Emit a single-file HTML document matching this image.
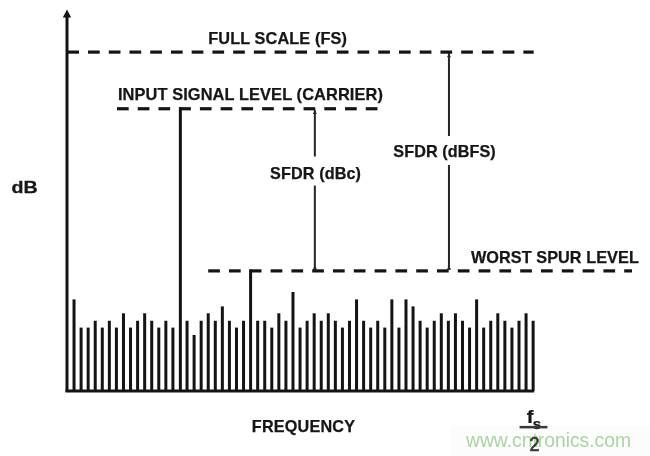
<!DOCTYPE html>
<html><head><meta charset="utf-8"><style>
html,body{margin:0;padding:0;background:#fff;}
body{width:650px;height:456px;overflow:hidden;position:relative;}
#wrap{position:absolute;left:0;top:0;width:650px;height:456px;will-change:transform;}
svg{position:absolute;left:0;top:0;}
text{font-family:"Liberation Sans",sans-serif;font-weight:bold;fill:#161616;stroke:#161616;stroke-width:0.25px;}
</style></head><body>
<div id="wrap"><svg width="650" height="456" viewBox="0 0 650 456">
<rect x="450" y="426" width="200" height="30" fill="#fcfcfc"/>
<g fill="#141414">
<rect x="65.5" y="16" width="3" height="376"/>
<polygon points="67,9.6 62.8,17.6 71.2,17.6"/>
<rect x="65.5" y="389.5" width="468.7" height="3"/>
<rect x="72.53" y="299.40" width="3.0" height="91.60"/>
<rect x="79.59" y="327.60" width="3.0" height="63.40"/>
<rect x="86.66" y="327.60" width="3.0" height="63.40"/>
<rect x="93.72" y="320.75" width="3.0" height="70.25"/>
<rect x="100.78" y="327.60" width="3.0" height="63.40"/>
<rect x="107.84" y="320.75" width="3.0" height="70.25"/>
<rect x="114.91" y="327.60" width="3.0" height="63.40"/>
<rect x="121.97" y="313.30" width="3.0" height="77.70"/>
<rect x="129.03" y="327.60" width="3.0" height="63.40"/>
<rect x="136.10" y="320.75" width="3.0" height="70.25"/>
<rect x="143.16" y="313.30" width="3.0" height="77.70"/>
<rect x="150.22" y="320.75" width="3.0" height="70.25"/>
<rect x="157.28" y="327.60" width="3.0" height="63.40"/>
<rect x="164.35" y="320.75" width="3.0" height="70.25"/>
<rect x="171.41" y="327.60" width="3.0" height="63.40"/>
<rect x="178.87" y="107.30" width="3.0" height="283.70"/>
<rect x="185.54" y="320.75" width="3.0" height="70.25"/>
<rect x="192.60" y="335.00" width="3.0" height="56.00"/>
<rect x="199.66" y="320.75" width="3.0" height="70.25"/>
<rect x="206.73" y="313.30" width="3.0" height="77.70"/>
<rect x="213.79" y="320.75" width="3.0" height="70.25"/>
<rect x="220.85" y="306.40" width="3.0" height="84.60"/>
<rect x="227.91" y="320.75" width="3.0" height="70.25"/>
<rect x="234.98" y="327.60" width="3.0" height="63.40"/>
<rect x="242.04" y="320.75" width="3.0" height="70.25"/>
<rect x="249.10" y="269.40" width="3.0" height="121.60"/>
<rect x="256.17" y="320.75" width="3.0" height="70.25"/>
<rect x="263.23" y="320.75" width="3.0" height="70.25"/>
<rect x="270.29" y="327.60" width="3.0" height="63.40"/>
<rect x="277.35" y="313.30" width="3.0" height="77.70"/>
<rect x="284.42" y="320.75" width="3.0" height="70.25"/>
<rect x="291.48" y="292.00" width="3.0" height="99.00"/>
<rect x="298.54" y="327.60" width="3.0" height="63.40"/>
<rect x="305.61" y="320.75" width="3.0" height="70.25"/>
<rect x="312.67" y="313.30" width="3.0" height="77.70"/>
<rect x="319.73" y="320.75" width="3.0" height="70.25"/>
<rect x="326.79" y="313.30" width="3.0" height="77.70"/>
<rect x="333.86" y="320.75" width="3.0" height="70.25"/>
<rect x="340.92" y="327.60" width="3.0" height="63.40"/>
<rect x="347.98" y="320.75" width="3.0" height="70.25"/>
<rect x="355.05" y="299.40" width="3.0" height="91.60"/>
<rect x="362.11" y="320.75" width="3.0" height="70.25"/>
<rect x="369.17" y="327.60" width="3.0" height="63.40"/>
<rect x="376.23" y="320.75" width="3.0" height="70.25"/>
<rect x="383.30" y="327.60" width="3.0" height="63.40"/>
<rect x="390.36" y="299.40" width="3.0" height="91.60"/>
<rect x="397.42" y="327.60" width="3.0" height="63.40"/>
<rect x="404.49" y="299.40" width="3.0" height="91.60"/>
<rect x="411.55" y="306.40" width="3.0" height="84.60"/>
<rect x="418.61" y="320.75" width="3.0" height="70.25"/>
<rect x="425.67" y="327.60" width="3.0" height="63.40"/>
<rect x="432.74" y="320.75" width="3.0" height="70.25"/>
<rect x="439.80" y="313.30" width="3.0" height="77.70"/>
<rect x="446.86" y="320.75" width="3.0" height="70.25"/>
<rect x="453.93" y="313.30" width="3.0" height="77.70"/>
<rect x="460.99" y="320.75" width="3.0" height="70.25"/>
<rect x="468.05" y="327.60" width="3.0" height="63.40"/>
<rect x="475.12" y="299.40" width="3.0" height="91.60"/>
<rect x="482.18" y="327.60" width="3.0" height="63.40"/>
<rect x="489.24" y="320.75" width="3.0" height="70.25"/>
<rect x="496.30" y="313.30" width="3.0" height="77.70"/>
<rect x="503.37" y="320.75" width="3.0" height="70.25"/>
<rect x="510.43" y="327.60" width="3.0" height="63.40"/>
<rect x="517.49" y="320.75" width="3.0" height="70.25"/>
<rect x="524.56" y="313.30" width="3.0" height="77.70"/>
<rect x="531.62" y="320.75" width="3.0" height="70.25"/>
<rect x="67.30" y="50.50" width="11.70" height="3.2"/>
<rect x="88.03" y="50.50" width="11.70" height="3.2"/>
<rect x="108.76" y="50.50" width="11.70" height="3.2"/>
<rect x="129.49" y="50.50" width="11.70" height="3.2"/>
<rect x="150.22" y="50.50" width="11.70" height="3.2"/>
<rect x="170.95" y="50.50" width="11.70" height="3.2"/>
<rect x="191.68" y="50.50" width="11.70" height="3.2"/>
<rect x="212.41" y="50.50" width="11.70" height="3.2"/>
<rect x="233.14" y="50.50" width="11.70" height="3.2"/>
<rect x="253.87" y="50.50" width="11.70" height="3.2"/>
<rect x="274.60" y="50.50" width="11.70" height="3.2"/>
<rect x="295.33" y="50.50" width="11.70" height="3.2"/>
<rect x="316.06" y="50.50" width="11.70" height="3.2"/>
<rect x="336.79" y="50.50" width="11.70" height="3.2"/>
<rect x="357.52" y="50.50" width="11.70" height="3.2"/>
<rect x="378.25" y="50.50" width="11.70" height="3.2"/>
<rect x="398.98" y="50.50" width="11.70" height="3.2"/>
<rect x="419.71" y="50.50" width="11.70" height="3.2"/>
<rect x="440.44" y="50.50" width="11.70" height="3.2"/>
<rect x="461.17" y="50.50" width="11.70" height="3.2"/>
<rect x="481.90" y="50.50" width="11.70" height="3.2"/>
<rect x="502.63" y="50.50" width="11.70" height="3.2"/>
<rect x="523.36" y="50.50" width="10.34" height="3.2"/>
<rect x="117.00" y="107.15" width="11.70" height="3.2"/>
<rect x="137.73" y="107.15" width="11.70" height="3.2"/>
<rect x="158.46" y="107.15" width="11.70" height="3.2"/>
<rect x="179.19" y="107.15" width="11.70" height="3.2"/>
<rect x="199.92" y="107.15" width="11.70" height="3.2"/>
<rect x="220.65" y="107.15" width="11.70" height="3.2"/>
<rect x="241.38" y="107.15" width="11.70" height="3.2"/>
<rect x="262.11" y="107.15" width="11.70" height="3.2"/>
<rect x="282.84" y="107.15" width="11.70" height="3.2"/>
<rect x="303.57" y="107.15" width="11.70" height="3.2"/>
<rect x="324.30" y="107.15" width="11.70" height="3.2"/>
<rect x="345.03" y="107.15" width="11.70" height="3.2"/>
<rect x="365.76" y="107.15" width="11.70" height="3.2"/>
<rect x="208.20" y="269.30" width="11.70" height="3.2"/>
<rect x="229.00" y="269.30" width="11.70" height="3.2"/>
<rect x="249.80" y="269.30" width="11.70" height="3.2"/>
<rect x="270.60" y="269.30" width="11.70" height="3.2"/>
<rect x="291.40" y="269.30" width="11.70" height="3.2"/>
<rect x="312.20" y="269.30" width="11.70" height="3.2"/>
<rect x="333.00" y="269.30" width="11.70" height="3.2"/>
<rect x="353.80" y="269.30" width="11.70" height="3.2"/>
<rect x="374.60" y="269.30" width="11.70" height="3.2"/>
<rect x="395.40" y="269.30" width="11.70" height="3.2"/>
<rect x="416.20" y="269.30" width="11.70" height="3.2"/>
<rect x="437.00" y="269.30" width="11.70" height="3.2"/>
<rect x="457.80" y="269.30" width="11.70" height="3.2"/>
<rect x="478.60" y="269.30" width="11.70" height="3.2"/>
<rect x="499.40" y="269.30" width="11.70" height="3.2"/>
<rect x="520.20" y="269.30" width="11.70" height="3.2"/>
<rect x="541.00" y="269.30" width="11.70" height="3.2"/>
<rect x="561.80" y="269.30" width="11.70" height="3.2"/>
<rect x="582.60" y="269.30" width="11.70" height="3.2"/>
<rect x="603.40" y="269.30" width="11.70" height="3.2"/>
<rect x="624.20" y="269.30" width="7.80" height="3.2"/>
</g>
<g fill="#262626">
<rect x="313.85" y="110" width="2" height="46.5"/>
<rect x="313.85" y="185.6" width="2" height="84"/>
<polygon points="314.85,110 312.9,114 316.8,114"/>
<polygon points="314.85,265.8 312.6,269.8 317.1,269.8"/>
<rect x="447.95" y="53" width="2" height="83"/>
<rect x="447.95" y="165" width="2" height="104.5"/>
<polygon points="448.95,53.3 447,57.3 450.9,57.3"/>
<polygon points="448.95,265.8 446.7,269.8 451.2,269.8"/>
</g>
<text x="208.3" y="44.1" font-size="16.3" letter-spacing="0.1">FULL SCALE (FS)</text>
<text x="117.9" y="100.3" font-size="16.4" letter-spacing="0.09">INPUT SIGNAL LEVEL (CARRIER)</text>
<text x="270.1" y="178.8" font-size="16.2" letter-spacing="0.1">SFDR (dBc)</text>
<text x="393.3" y="156.5" font-size="16.2" letter-spacing="0.08">SFDR (dBFS)</text>
<text x="470.9" y="262.6" font-size="16.25" letter-spacing="0.06">WORST SPUR LEVEL</text>
<text x="0" y="0" font-size="16.5" transform="translate(11.6 192.85) scale(1.19 1)">dB</text>
<text x="251.8" y="432.1" font-size="16.2" letter-spacing="0.2">FREQUENCY</text>
<text x="0" y="0" font-size="17.9" transform="translate(526.8 423.1) scale(1.12 1)">f</text>
<text x="532.8" y="429.1" font-size="15">s</text>
<rect x="519.6" y="425.9" width="27.8" height="2.5" fill="#3a3a3a"/>
<text x="0" y="0" font-size="20" fill="#222" transform="translate(529.6 451) scale(0.9 1)" style="fill:#3a3a3a;font-weight:normal;stroke:#3a3a3a;stroke-width:0.7">2</text>
<text x="466" y="447.4" font-size="19.3" style="font-weight:normal;fill:#acd8a4;stroke:none;mix-blend-mode:multiply">www.cntronics.com</text>
</svg></div>
</body></html>
